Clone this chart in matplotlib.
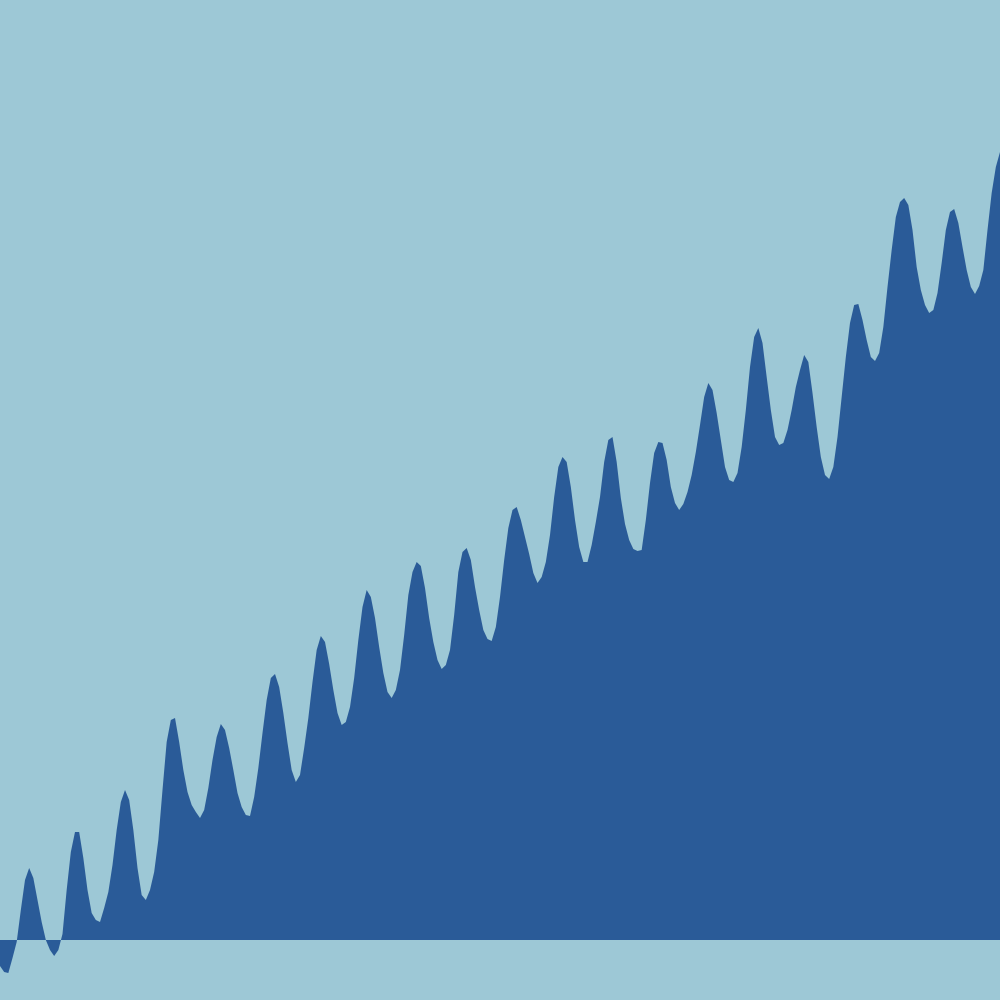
import numpy as np
import matplotlib
matplotlib.use('Agg')
import matplotlib.pyplot as plt

# monthly values, height above the baseline
heights = [
    -26, -32, -33, -18, -2, 30, 60, 72, 62, 40, 18, 0,
    -10, -16, -10, 6, 50, 88, 108, 108, 82, 50, 27, 20,
    18, 32, 48, 75, 110, 138, 150, 140, 110, 72, 45, 40,
    50, 68, 100, 150, 198, 220, 222, 198, 170, 148, 135, 128,
    122, 130, 152, 180, 203, 216, 210, 192, 170, 147, 133, 125,
    124, 143, 172, 207, 240, 262, 266, 253, 227, 197, 170, 158,
    165, 192, 222, 258, 290, 304, 298, 276, 250, 227, 215, 218,
    233, 262, 300, 333, 350, 343, 322, 293, 267, 248, 242, 250,
    270, 305, 345, 368, 378, 374, 352, 322, 298, 280, 271, 275,
    290, 325, 368, 388, 392, 380, 353, 330, 310, 301, 299, 313,
    343, 380, 412, 430, 433, 420, 403, 386, 367, 357, 363, 378,
    405, 443, 473, 483, 478, 453, 420, 393, 378, 378, 395, 418,
    443, 478, 500, 503, 478, 442, 416, 400, 391, 389, 390, 420,
    457, 487, 498, 497, 480, 453, 437, 430, 436, 448, 465, 488,
    515, 543, 557, 550, 527, 500, 473, 460, 458, 467, 493, 530,
    573, 603, 612, 597, 563, 530, 503, 495, 497, 510, 530, 553,
    570, 585, 578, 547, 513, 483, 465, 461, 473, 503, 543, 583,
    617, 635, 636, 620, 600, 583, 579, 587, 613, 653, 690, 723,
    738, 742, 735, 710, 673, 650, 635, 627, 630, 647, 677, 710,
    728, 731, 717, 693, 670, 653, 646, 654, 670, 710, 747, 773,
    788,
]
months = np.arange(len(heights))

light = '#9dc8d6'
dark = '#2a5b98'

fig = plt.figure(figsize=(10, 10), dpi=100, facecolor=light)
ax = fig.add_axes([0, 0, 1, 1])
ax.set_facecolor(light)

# area between the curve and the zero line
ax.fill_between(months, 0, heights, color=dark, linewidth=0, interpolate=True)

ax.set_xlim(0, len(heights) - 1)
ax.set_ylim(-60, 940)
ax.axis('off')

fig.savefig('out.png', dpi=100, facecolor=light)
